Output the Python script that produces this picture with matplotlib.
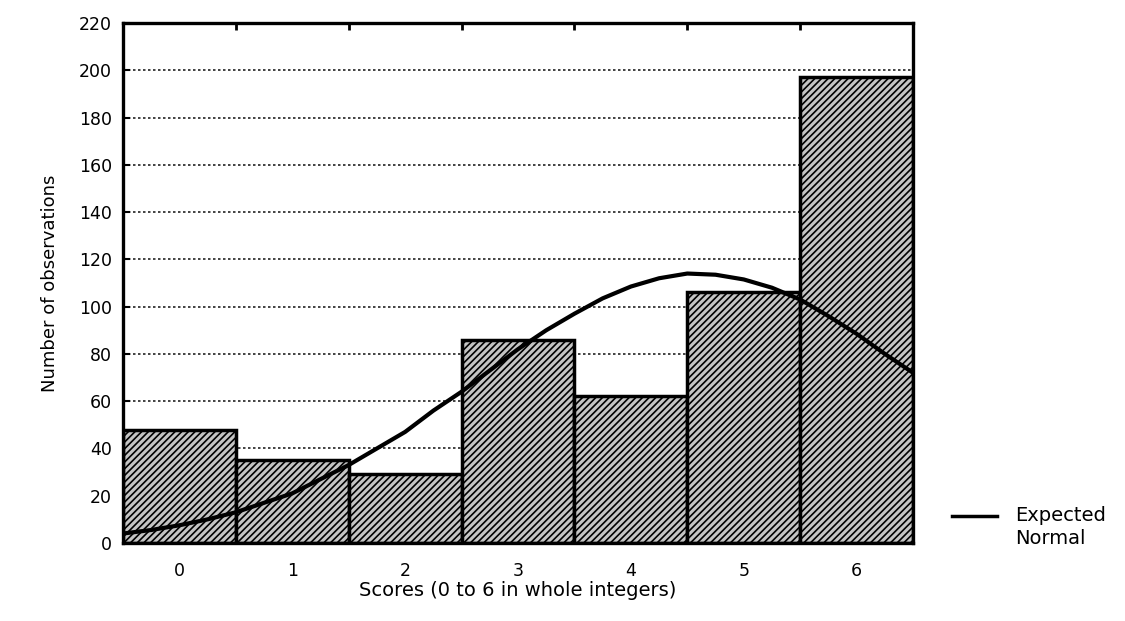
import numpy as np
import matplotlib
matplotlib.use("Agg")
import matplotlib.pyplot as plt
from matplotlib.lines import Line2D

# histogram counts per score
scores = [0, 1, 2, 3, 4, 5, 6]
counts = [48, 35, 29, 86, 62, 106, 197]

# expected normal curve
curve_x = [-0.5, -0.25, 0, 0.25, 0.5, 0.75, 1, 1.25, 1.5, 1.75, 2, 2.25, 2.5,
           2.75, 3, 3.25, 3.5, 3.75, 4, 4.25, 4.5, 4.75, 5, 5.25, 5.5, 5.75,
           6, 6.25, 6.5]
curve_y = [4, 5.5, 7.5, 10, 13, 17, 21, 27, 33, 40, 47, 56, 64,
           73, 82, 90, 97, 103.5, 108.5, 112, 114, 113.5, 111.5, 108, 103, 96,
           88.5, 80, 72]

yticks = list(range(0, 221, 20))
legend_text = "Expected\nNormal"

plt.rcParams['font.family'] = ['DejaVu Sans']
plt.rcParams['hatch.linewidth'] = 1.2
plt.rcParams['hatch.color'] = 'black'

fig = plt.figure(figsize=(11.25, 6.21), dpi=100)
ax = fig.add_axes([0.1093, 0.1256, 0.7023, 0.8374])

ax.bar(scores, counts, width=1.0, color='#c4c4c4', edgecolor='black',
       linewidth=2.5, hatch='/////', zorder=2)
ax.plot(curve_x, curve_y, color='black', linewidth=3, zorder=3,
        solid_capstyle='butt')

ax.set_xlim(-0.5, 6.5)
ax.set_ylim(0, 220)
ax.set_yticks(yticks)
ax.set_xticks(scores)
ax.set_xticks([0.5, 1.5, 2.5, 3.5, 4.5, 5.5], minor=True)

for y in yticks[1:-1]:
    ax.axhline(y, color='#222222', linewidth=1.2, linestyle=(0, (1.5, 1.5)), zorder=1)

for s in ax.spines.values():
    s.set_linewidth(2.4)

ax.tick_params(axis='y', direction='in', length=5, width=1.5, labelsize=12.5, pad=8)
ax.tick_params(axis='x', which='major', bottom=False, labelsize=12.5, pad=10)
ax.tick_params(axis='x', which='minor', bottom=False, top=True, direction='in',
               length=5, width=2)

ax.set_xlabel("Scores (0 to 6 in whole integers)", fontsize=14, labelpad=1)
ax.set_ylabel("Number of observations", fontsize=13, labelpad=14)

# legend drawn at the right of the plot
fig.add_artist(Line2D([952 / 1125, 997 / 1125], [1 - 516 / 621, 1 - 516 / 621],
                      color='black', linewidth=2.5, transform=fig.transFigure))
fig.text(1015 / 1125, 1 - 506 / 621, legend_text, fontsize=14, va='top',
         ha='left', linespacing=1.3, transform=fig.transFigure)

plt.savefig("out.png", dpi=100)
